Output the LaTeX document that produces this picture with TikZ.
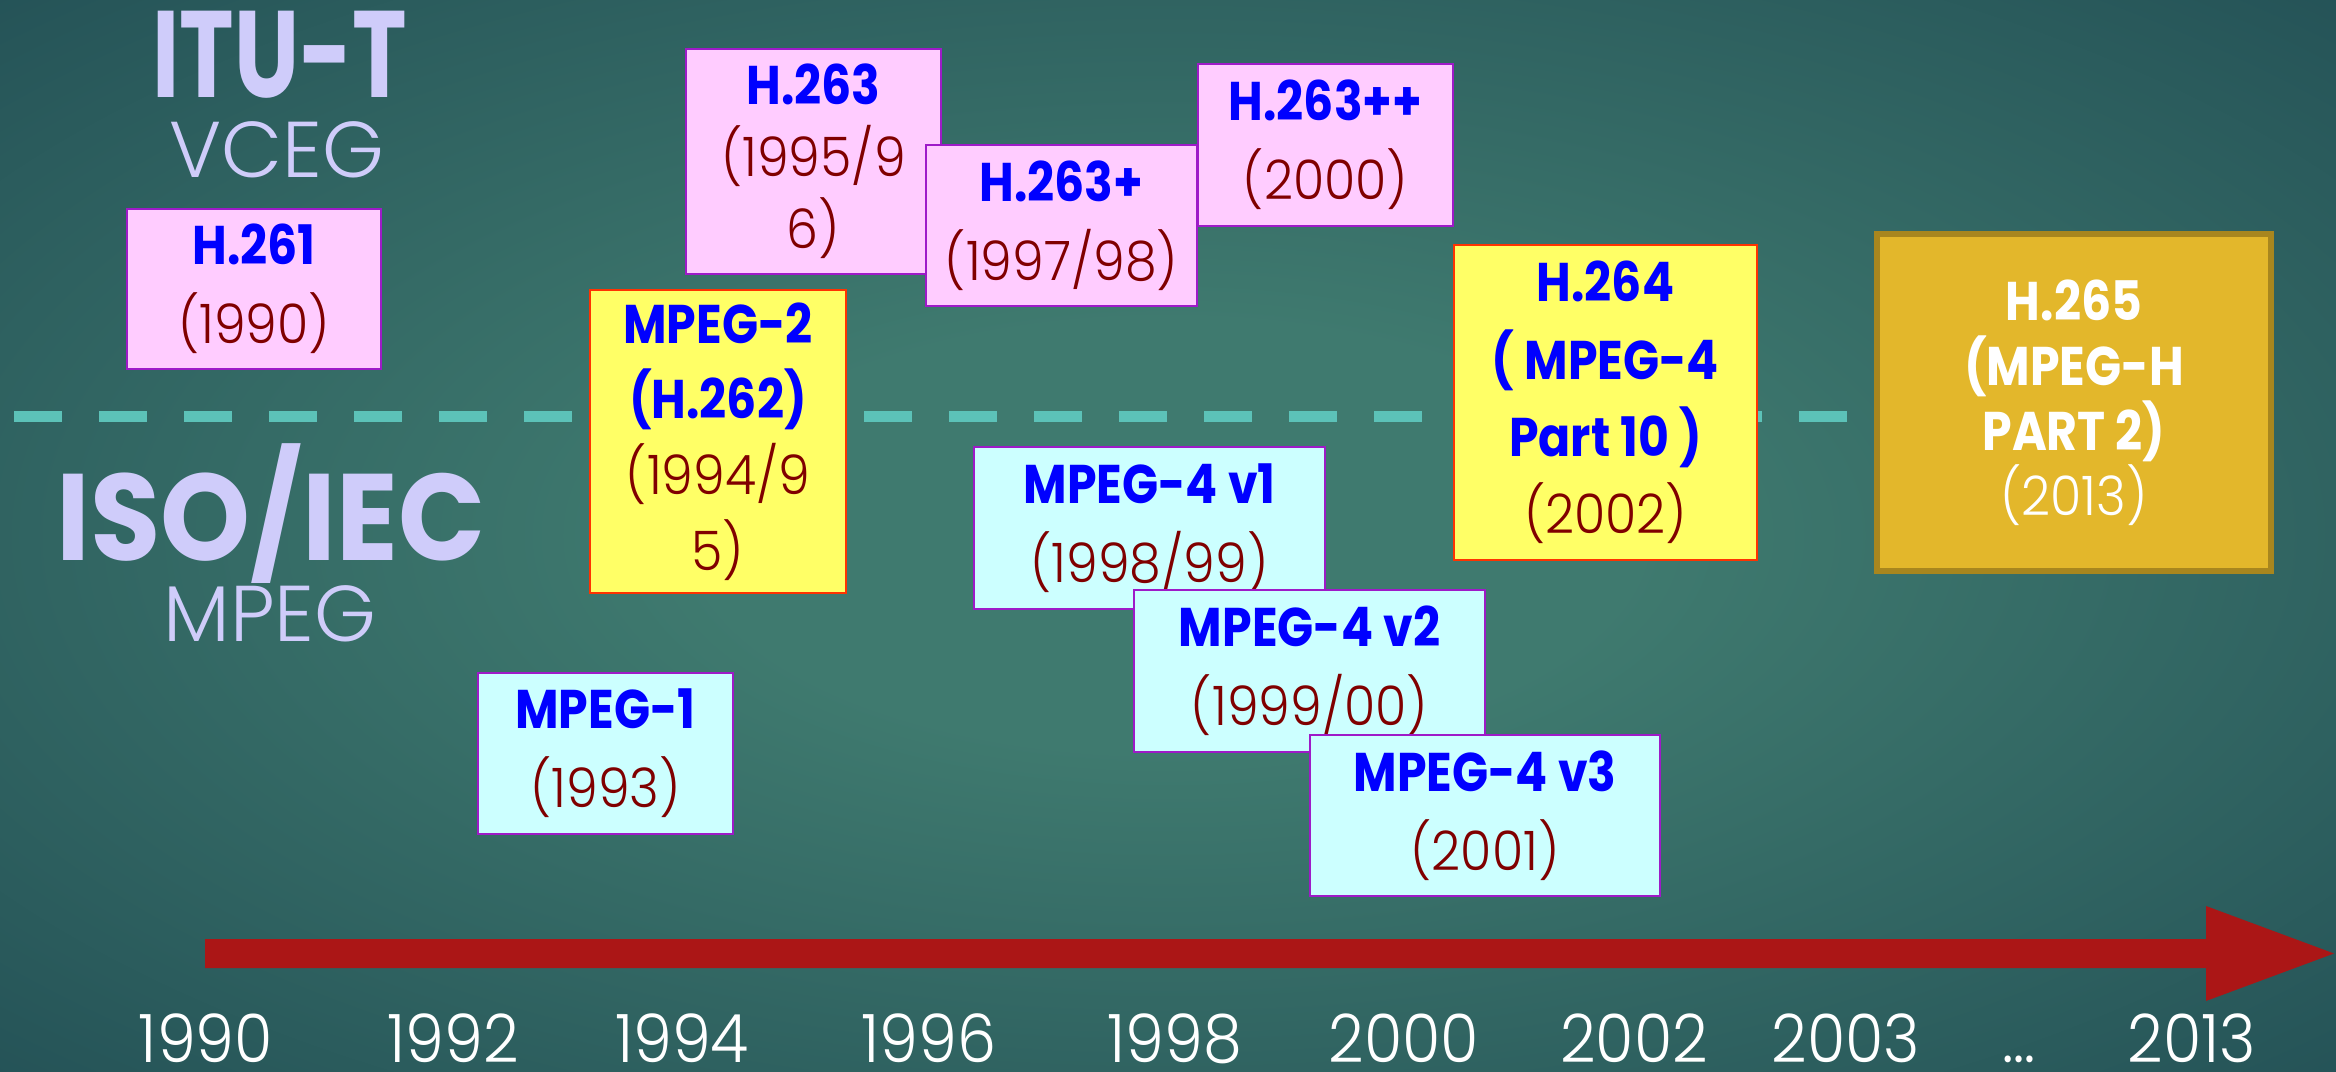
\documentclass[tikz,border=0pt]{standalone}
\usepackage{fontspec}
\setmainfont{Poppins}
\newfontfamily\condfont{Poppins}[FakeStretch=0.75]
\newfontfamily\widefont{Poppins}[FakeStretch=0.93]
\newfontfamily\namefont{Poppins}[FakeStretch=0.87]
\newfontfamily\thinfont{Poppins Light}[FakeStretch=0.93]
\newfontfamily\lightfont{Poppins Light}

\definecolor{bgLight}{HTML}{3F7A6F}
\definecolor{bgDark}{HTML}{163D4A}
\definecolor{groupLav}{HTML}{CFCCFA}
\definecolor{sepTeal}{HTML}{5CC2B8}
\definecolor{ituPink}{HTML}{FFCCFF}
\definecolor{jointYellow}{HTML}{FFFF66}
\definecolor{mpegCyan}{HTML}{CCFFFF}
\definecolor{hevcGold}{HTML}{E3B72B}
\definecolor{hevcEdge}{HTML}{A8861E}
\definecolor{boxPurple}{HTML}{9E1AC8}
\definecolor{jointRed}{HTML}{FF3300}
\definecolor{stdBlue}{HTML}{0000FF}
\definecolor{yearRed}{HTML}{800000}
\definecolor{arrowRed}{HTML}{AB1616}

\pgfdeclareradialshading{slidebg}{\pgfpoint{0bp}{0bp}}{color(0bp)=(bgLight); color(10bp)=(bgLight); color(50bp)=(bgDark)}

\newcommand{\stdname}[1]{{\namefont\bfseries #1}}
\newcommand{\stdyear}[1]{{\thinfont\color{yearRed}#1}}

\tikzset{
  codec/.style={draw, line width=0.8pt, inner sep=0pt, align=center, text=stdBlue,
    font=\fontsize{15.5}{22.5}\selectfont},
  ituBox/.style={codec, fill=ituPink, draw=boxPurple},
  jointBox/.style={codec, fill=jointYellow, draw=jointRed},
  mpegBox/.style={codec, fill=mpegCyan, draw=boxPurple},
  hevcBox/.style={codec, fill=hevcGold, draw=hevcEdge, line width=1.6pt, text=white,
    font=\fontsize{15.5}{18.5}\selectfont},
  groupBig/.style={anchor=base, inner sep=0pt, text=groupLav, font=\condfont\bfseries\fontsize{35}{35}\selectfont},
  groupSmall/.style={anchor=base, inner sep=0pt, text=groupLav, font=\lightfont\fontsize{22.5}{22.5}\selectfont},
  yearlabel/.style={anchor=base, inner sep=0pt, text=white, font=\thinfont\fontsize{19}{19}\selectfont},
  separator/.style={draw=sepTeal, line width=0.11cm, dash pattern=on 0.48cm off 0.37cm},
  timeline/.style={fill=arrowRed}
}

\begin{document}
\begin{tikzpicture}
	\useasboundingbox (0,0) rectangle (23.36,10.71);
	\shade[shading=slidebg] (0,0) rectangle (23.36,10.71);

	% ITU-T / ISO split
	\coordinate (sepL) at (0.14,6.545);
	\coordinate (sepR) at (18.50,6.545);
	\draw[separator] (sepL) -- (sepR);

	\node[groupBig] (itu) at (2.80,9.73) {ITU-T};
	\node[groupSmall] (vceg) at (2.77,8.93) {VCEG};
	\node[groupBig, font=\widefont\bfseries\fontsize{35}{35}\selectfont] (iso) at (2.71,5.10) {ISO/IEC};
	\node[groupSmall] (mpeg) at (2.70,4.29) {MPEG};

	% standards
	\draw (2.54,7.82) node [ituBox, minimum width=2.54cm, minimum height=1.60cm] (h261)
		{\stdname{H.261}\\\stdyear{(1990)}};
	\draw (8.135,9.095) node [ituBox, minimum width=2.55cm, minimum height=2.25cm,
		font=\fontsize{15.5}{20.5}\selectfont] (h263)
		{\stdname{H.263}\\\stdyear{(1995/9}\\\stdyear{6)}};
	\draw (10.615,8.455) node [ituBox, minimum width=2.71cm, minimum height=1.61cm] (h263p)
		{\stdname{H.263+}\\\stdyear{(1997/98)}};
	\draw (13.255,9.26) node [ituBox, minimum width=2.55cm, minimum height=1.62cm] (h263pp)
		{\stdname{H.263++}\\\stdyear{(2000)}};
	\draw (6.055,3.175) node [mpegBox, minimum width=2.55cm, minimum height=1.61cm] (mpeg1)
		{\stdname{MPEG-1}\\\stdyear{(1993)}};
	\draw (7.18,6.295) node [jointBox, minimum width=2.56cm, minimum height=3.03cm,
		font=\fontsize{15.5}{21.5}\selectfont] (mpeg2)
		{\stdname{MPEG-2}\\\stdname{(H.262)}\\\stdyear{(1994/9}\\\stdyear{5)}};
	\draw (11.495,5.43) node [mpegBox, minimum width=3.51cm, minimum height=1.62cm] (m4v1)
		{\stdname{MPEG-4 v1}\\\stdyear{(1998/99)}};
	\draw (13.095,4.00) node [mpegBox, minimum width=3.51cm, minimum height=1.62cm] (m4v2)
		{\stdname{MPEG-4 v2}\\\stdyear{(1999/00)}};
	\draw (14.85,2.555) node [mpegBox, minimum width=3.50cm, minimum height=1.61cm] (m4v3)
		{\stdname{MPEG-4 v3}\\\stdyear{(2001)}};
	\draw (16.055,6.685) node [jointBox, minimum width=3.03cm, minimum height=3.15cm,
		font=\fontsize{15.5}{22}\selectfont] (h264)
		{\stdname{H.264}\\\stdname{( MPEG-4}\\\stdname{Part 10 )}\\\stdyear{(2002)}};
	\draw (20.74,6.685) node [hevcBox, minimum width=3.94cm, minimum height=3.37cm] (h265)
		{\stdname{H.265}\\\stdname{(MPEG-H}\\\stdname{PART 2)}\\{\thinfont (2013)}};

	% time axis
	\fill[timeline] (2.05,1.32) -- (22.06,1.32) -- (22.06,1.65) -- (23.34,1.175)
		-- (22.06,0.70) -- (22.06,1.03) -- (2.05,1.03) -- cycle;
	\foreach \x/\lbl [count=\i] in {2.06/1990, 4.53/1992, 6.82/1994, 9.29/1996, 11.75/1998,
		14.04/2000, 16.34/2002, 18.46/2003, 20.19/{\ldots}, 21.92/2013}
		\node[yearlabel] (year\i) at (\x,0.09) {\lbl};
\end{tikzpicture}
\end{document}
